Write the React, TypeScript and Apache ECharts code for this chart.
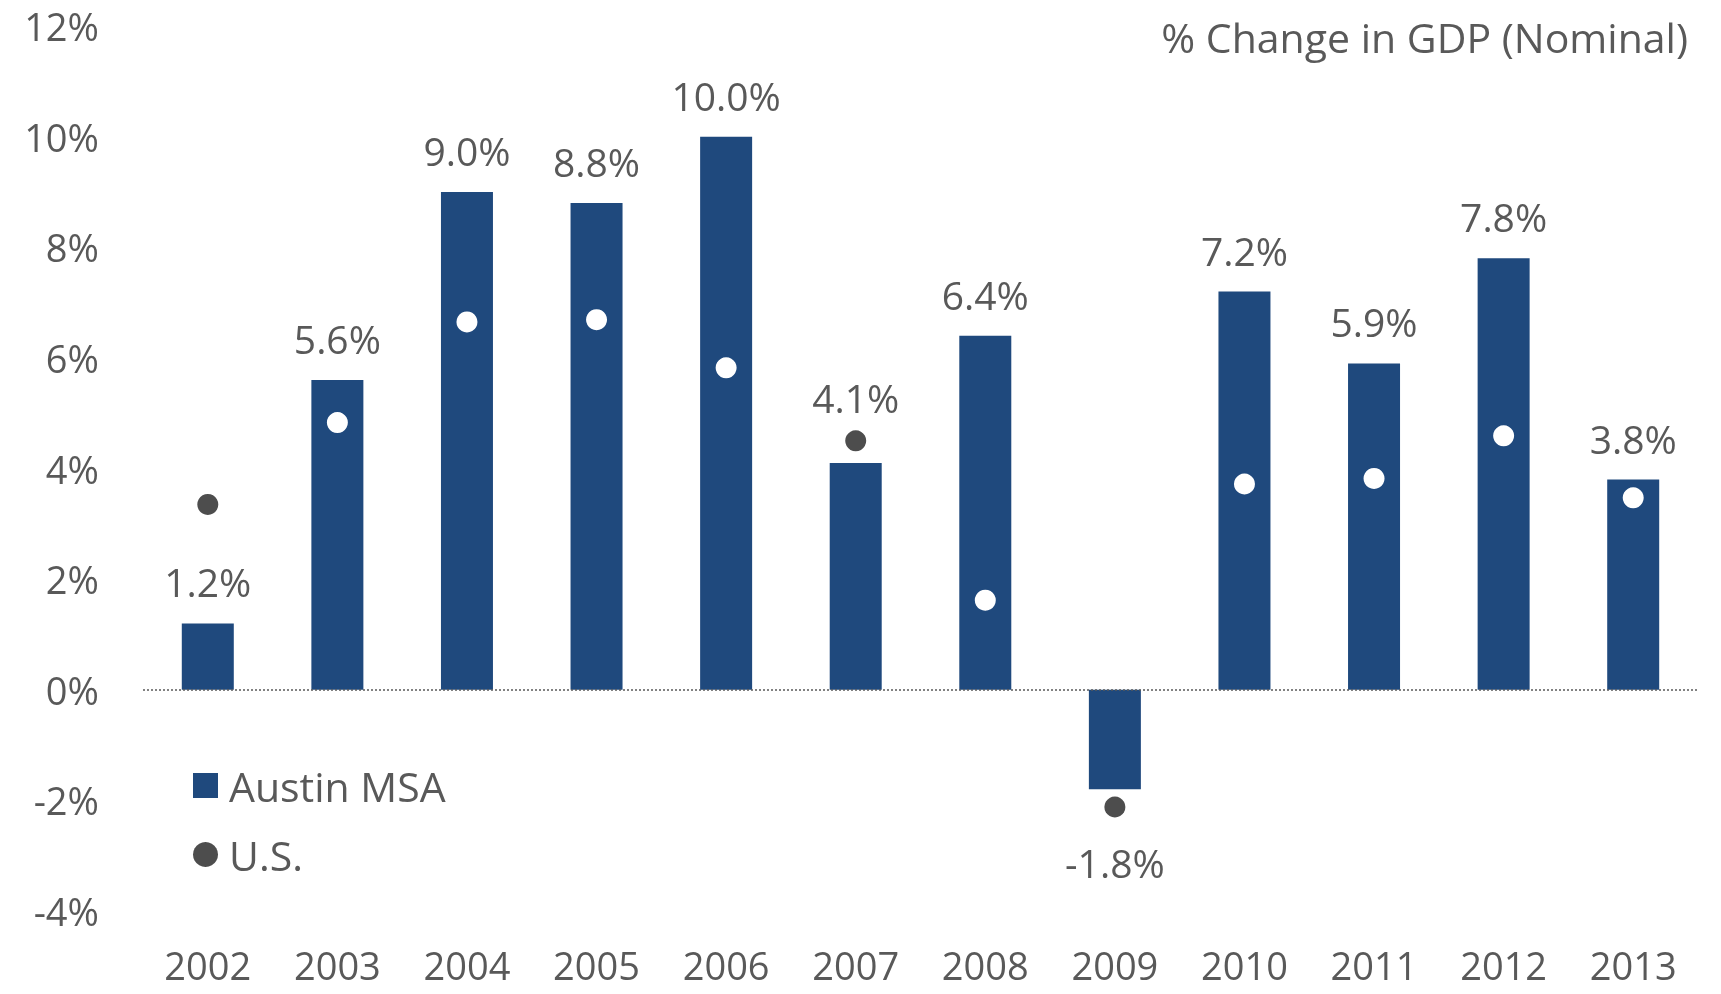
import React, { useEffect, useRef } from "react";
import * as echarts from "echarts";

const years = ["2002", "2003", "2004", "2005", "2006", "2007", "2008", "2009", "2010", "2011", "2012", "2013"];
const austin = [1.2, 5.6, 9.0, 8.8, 10.0, 4.1, 6.4, -1.8, 7.2, 5.9, 7.8, 3.8];
const us = [3.35, 4.83, 6.65, 6.69, 5.82, 4.5, 1.62, -2.12, 3.72, 3.82, 4.59, 3.47];
const yTicks = [-4, -2, 0, 2, 4, 6, 8, 10, 12];
const titleText = "% Change in GDP (Nominal)";

const FONT = "'Open Sans', 'Noto Sans', sans-serif";
const TXT = "#595959";
const BAR = "#1F497D";
const DOT = "#4D4D4D";

export default function App() {
  const ref = useRef<HTMLDivElement>(null);
  useEffect(() => {
    if (!ref.current) return;
    const chart = echarts.init(ref.current, null, { renderer: "svg" });
    const barData = austin.map((v, i) => {
      const item: any = { value: v };
      if (v < 0) {
        item.label = { position: "bottom", distance: 54 };
      } else if (us[i] > v && us[i] - v < 1) {
        item.label = { distance: 46 };
      }
      return item;
    });
    const usData = us.map((v, i) => {
      const inside = austin[i] > 0 ? v > 0 && v < austin[i] : v < 0 && v > austin[i];
      return { value: v, itemStyle: { color: inside ? "#FFFFFF" : DOT, opacity: 1 } };
    });
    chart.setOption({
      animation: false,
      textStyle: { fontFamily: FONT },
      title: {
        text: titleText,
        right: 28,
        top: 11,
        textStyle: { fontFamily: FONT, fontSize: 41, fontWeight: "normal", color: TXT },
      },
      legend: {
        orient: "vertical",
        left: 188,
        top: 760,
        itemWidth: 25,
        itemHeight: 25,
        itemGap: 28,
        textStyle: { fontFamily: FONT, fontSize: 41, color: TXT, padding: [0, 0, 0, 6] },
        data: [
          { name: "Austin MSA", icon: "rect" },
          { name: "U.S.", icon: "circle", itemStyle: { color: DOT, opacity: 1 } },
        ],
      },
      grid: { left: 143, right: 23, top: 26, bottom: 83, containLabel: false },
      xAxis: {
        type: "category",
        data: years,
        axisLine: { show: false },
        axisTick: { show: false },
        axisLabel: { color: TXT, fontSize: 38, lineHeight: 36, fontFamily: FONT, margin: 36 },
      },
      yAxis: {
        type: "value",
        min: -4,
        max: 12,
        interval: 2,
        splitLine: { show: false },
        axisLine: { show: false },
        axisTick: { show: false },
        axisLabel: {
          color: TXT,
          fontSize: 38,
          lineHeight: 38,
          fontFamily: FONT,
          margin: 44,
          formatter: (v: number) => (yTicks.includes(v) ? `${v}%` : ""),
        },
      },
      series: [
        {
          name: "Austin MSA",
          type: "bar",
          data: barData,
          barWidth: 52,
          itemStyle: { color: BAR },
          label: {
            show: true,
            position: "top",
            distance: 22,
            color: TXT,
            fontSize: 39,
            fontFamily: FONT,
            formatter: (p: any) => `${Number(p.value).toFixed(1)}%`,
          },
          markLine: {
            silent: true,
            symbol: "none",
            label: { show: false },
            lineStyle: { type: [2, 2], color: "#595959", width: 1.5 },
            data: [{ yAxis: 0 }],
          },
          z: 2,
        },
        {
          name: "U.S.",
          type: "scatter",
          data: usData,
          symbol: "circle",
          symbolSize: 21,
          itemStyle: { color: DOT, opacity: 1 },
          z: 3,
        },
      ],
    });
    return () => chart.dispose();
  }, []);
  return <div ref={ref} style={{ position: "fixed", left: 0, top: 0, width: 1721, height: 994 }} />;
}
